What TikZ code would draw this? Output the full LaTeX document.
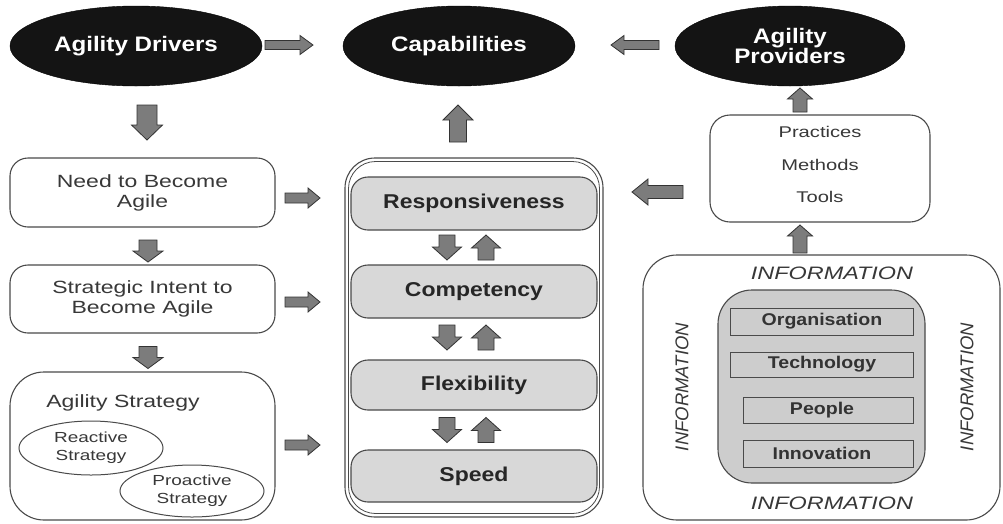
\documentclass[tikz,border=0pt]{standalone}
\usepackage{fontspec}
\setmainfont{Liberation Sans}
\newfontfamily\widesans{Liberation Sans}[FakeStretch=1.3]
\newfontfamily\boldsans{Liberation Sans}[FakeStretch=1.15]
\usetikzlibrary{shapes.geometric}

\definecolor{linegray}{HTML}{4A4A4A}
\definecolor{boxgray}{HTML}{D8D8D8}
\definecolor{innergray}{HTML}{CDCDCD}
\definecolor{arrowgray}{HTML}{7C7C7C}
\definecolor{arrowline}{HTML}{333333}
\definecolor{textgray}{HTML}{383838}

% block arrow pointing along +x, centred on the pic origin:
% {length}{shaft width}{head width}{head length}
\tikzset{
  blockarrowstyle/.style={draw=arrowline, fill=arrowgray, line width=0.8pt, line join=miter},
  pics/blockarr/.style n args={4}{code={
    \path[blockarrowstyle]
      (-#1/2,-#2/2) -- (#1/2-#4,-#2/2) -- (#1/2-#4,-#3/2) -- (#1/2,0)
      -- (#1/2-#4,#3/2) -- (#1/2-#4,#2/2) -- (-#1/2,#2/2) -- cycle;
  }}
}

\begin{document}
\begin{tikzpicture}[x=1pt,y=-1pt,
  oval/.style={ellipse, fill=black!92, draw=black, text=white, align=center,
    inner sep=0pt, font=\boldsans\bfseries\fontsize{21}{20}\selectfont},
  whitebox/.style={draw=linegray, line width=1.1pt, fill=white, align=center,
    inner sep=0pt, text=textgray, font=\widesans\fontsize{17.7}{20}\selectfont},
  graybox/.style={draw=linegray, line width=1.1pt, fill=boxgray, rounded corners=17pt,
    inner sep=0pt, minimum width=246pt, minimum height=53pt, text=black!85,
    font=\boldsans\bfseries\fontsize{20}{24}\selectfont},
  subbox/.style={draw=linegray, line width=1.1pt, fill=innergray, inner sep=0pt,
    anchor=north west},
  sublabel/.style={text=black!80, font=\boldsans\bfseries\fontsize{17}{20}\selectfont},
  infotext/.style={text=textgray, font=\widesans\itshape\fontsize{18}{20}\selectfont},
  infovert/.style={text=textgray, rotate=90, font=\itshape\fontsize{18.5}{20}\selectfont},
  strategyoval/.style={ellipse, draw=linegray, line width=1pt, inner sep=0pt, align=center,
    text=textgray, font=\widesans\fontsize{14.6}{18}\selectfont},
  toolstext/.style={text=textgray, font=\widesans\fontsize{15.5}{18}\selectfont}
]
\useasboundingbox[fill=white] (0,0) rectangle (1003,523);

% ---- top row: drivers, capabilities, providers ----
\node[oval, minimum width=252pt, minimum height=80pt] (drivers) at (136,46) {Agility Drivers};
\node[oval, minimum width=232pt, minimum height=80pt] (cap) at (459,46) {Capabilities};
\node[oval, minimum width=230pt, minimum height=80pt] (prov) at (790,46) {Agility\\Providers};

% ---- left column ----
\node[whitebox, rounded corners=18pt, minimum width=265pt, minimum height=69pt]
  (need) at (142.5,192.5) {Need to Become\\Agile};
\node[whitebox, rounded corners=18pt, minimum width=265pt, minimum height=68pt]
  (intent) at (142.5,299) {Strategic Intent to\\Become Agile};
\node[whitebox, rounded corners=34pt, minimum width=265pt, minimum height=148pt]
  (strategy) at (142.5,446) {};
\node[text=textgray, font=\widesans\fontsize{17.7}{20}\selectfont]
  (strategytitle) at (123,403) {Agility Strategy};
\node[strategyoval, minimum width=144pt, minimum height=54pt]
  (reactive) at (91,448) {Reactive\\Strategy};
\node[strategyoval, minimum width=144pt, minimum height=52pt]
  (proactive) at (192,491) {Proactive\\Strategy};

% ---- middle column: capabilities stack ----
\draw[linegray, line width=1.1pt, rounded corners=30pt] (345,158) rectangle (603,517);
\draw[linegray, line width=0.8pt, rounded corners=27pt] (348.5,161.5) rectangle (599.5,513.5);
\node[graybox] (resp) at (474,203.5) {Responsiveness};
\node[graybox] (comp) at (474,291.5) {Competency};
\node[graybox, minimum height=50pt] (flex) at (474,385) {Flexibility};
\node[graybox, minimum height=52pt] (speed) at (474,476) {Speed};

% ---- right column: providers detail ----
\node[whitebox, rounded corners=20pt, minimum width=220pt, minimum height=107pt]
  (tools) at (820,168.5) {};
\node[toolstext] (practices) at (820,132) {Practices};
\node[toolstext] (methods) at (820,165) {Methods};
\node[toolstext] (toolslabel) at (820,197) {Tools};

\node[whitebox, rounded corners=34pt, minimum width=357pt, minimum height=265pt]
  (info) at (821.5,387.5) {};
\node[draw=linegray, line width=1.1pt, fill=innergray, rounded corners=34pt,
  minimum width=207pt, minimum height=193pt, inner sep=0pt] (core) at (821.5,386.5) {};
\node[subbox, minimum width=183pt, minimum height=27pt] (org) at (730,308) {};
\node[subbox, minimum width=183pt, minimum height=25pt] (tech) at (730,352) {};
\node[subbox, minimum width=170pt, minimum height=26pt] (people) at (743,397) {};
\node[subbox, minimum width=170pt, minimum height=27pt] (innov) at (743,440) {};
\node[sublabel] (orgtext) at (822,321.5) {Organisation};
\node[sublabel] (techtext) at (822,364.5) {Technology};
\node[sublabel] (peopletext) at (822,410) {People};
\node[sublabel] (innovtext) at (822,453.5) {Innovation};
\node[infotext] (infotop) at (832,273) {INFORMATION};
\node[infotext] (infobottom) at (832,503) {INFORMATION};
\node[infovert] (infoleft) at (682,387) {INFORMATION};
\node[infovert] (inforight) at (967,387) {INFORMATION};

% ---- block arrows ----
% top row
\pic (a1) at (289,45) {blockarr={48}{9}{19}{13}};
\pic[rotate=180] (a2) at (635,45) {blockarr={48}{9}{19}{13}};
\pic[rotate=-90] (a3) at (147,122.5) {blockarr={35}{20}{31}{15}};
\pic[rotate=90] (a4) at (458,123.5) {blockarr={37}{17}{30}{15}};
\pic[rotate=90] (a5) at (800,100) {blockarr={24}{14}{25}{11}};
\pic[rotate=180] (a6) at (657.5,192) {blockarr={51}{13}{26}{16}};
\pic[rotate=90] (a7) at (800,239) {blockarr={28}{14}{25}{11}};
% left column to capabilities
\pic (a8) at (302.5,198) {blockarr={35}{10}{20}{12}};
\pic (a9) at (302.5,302) {blockarr={35}{10}{20}{12}};
\pic (a10) at (302.5,445) {blockarr={35}{10}{20}{12}};
% left column flow
\pic[rotate=-90] (a11) at (148,251) {blockarr={22}{18}{30}{11}};
\pic[rotate=-90] (a12) at (148,357.5) {blockarr={22}{18}{30}{11}};
% between capability levels
\pic[rotate=-90] (d1) at (447,247.5) {blockarr={25}{16}{29}{13}};
\pic[rotate=90] (u1) at (486,247.5) {blockarr={25}{16}{29}{13}};
\pic[rotate=-90] (d2) at (447,337.5) {blockarr={25}{16}{29}{13}};
\pic[rotate=90] (u2) at (486,337.5) {blockarr={25}{16}{29}{13}};
\pic[rotate=-90] (d3) at (447,430) {blockarr={25}{16}{29}{13}};
\pic[rotate=90] (u3) at (486,430) {blockarr={25}{16}{29}{13}};
\end{tikzpicture}
\end{document}
